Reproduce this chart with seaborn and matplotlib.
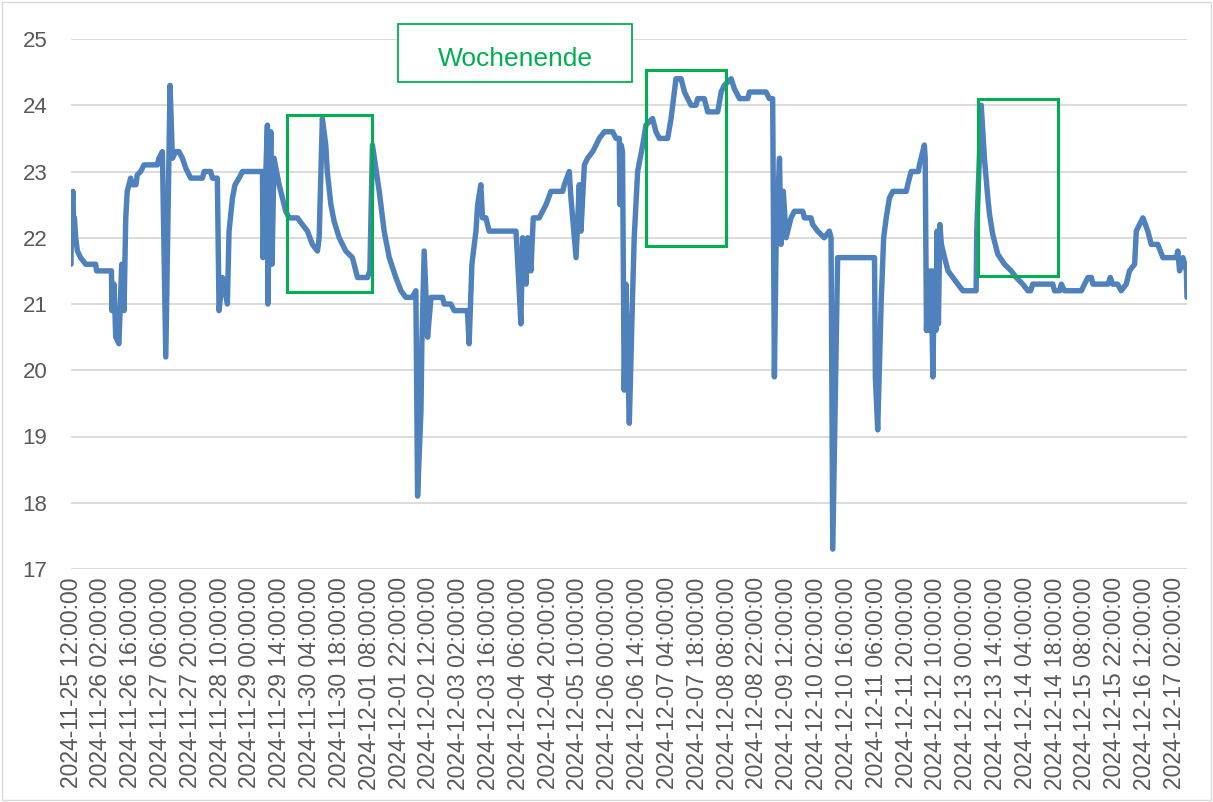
import matplotlib
matplotlib.use("Agg")
import matplotlib.pyplot as plt
import matplotlib.dates as mdates
from matplotlib.patches import Rectangle
import seaborn as sns
import pandas as pd

# Messbeginn und Zeitachse
START = pd.Timestamp("2024-11-25 12:00:00")

# Stunden seit Messbeginn
hours = [
    0.0, 0.3, 0.9, 1.3, 1.6, 2.2, 3.0, 4.5, 6.9, 11.6,
    12.0, 19.0, 19.2, 20.2, 21.0, 22.5, 23.8, 24.9, 25.7, 26.4,
    28.0, 28.7, 30.5, 31.1, 32.7, 34.3, 40.5, 41.3, 42.9, 44.5,
    46.5, 47.6, 49.2, 50.7, 52.3, 53.9, 56.2, 61.7, 62.5, 65.6,
    66.4, 68.7, 69.5, 71.1, 73.4, 74.2, 75.8, 77.0, 78.9, 80.5,
    89.9, 90.1, 92.2, 92.4, 93.8, 94.4, 95.3, 97.7, 100.8, 102.4,
    106.3, 108.6, 111.0, 113.3, 115.7, 116.5, 118.0, 119.6, 120.3, 122.0,
    123.5, 125.9, 129.0, 132.1, 134.5, 139.2, 140.3, 141.5, 144.7, 147.0,
    149.4, 152.5, 154.9, 157.2, 160.2, 161.9, 162.7, 164.3, 164.7, 165.8,
    167.4, 169.0, 174.4, 175.2, 178.3, 179.9, 186.1, 186.9, 188.2, 190.1,
    190.9, 192.4, 193.2, 194.8, 196.3, 208.9, 209.6, 211.2, 212.0, 213.6,
    214.4, 215.9, 217.0, 219.8, 221.4, 223.0, 225.3, 230.8, 231.6, 233.9,
    234.7, 237.1, 238.6, 239.4, 241.0, 242.5, 244.9, 246.5, 248.0, 250.4,
    254.3, 255.8, 257.4, 257.7, 258.3, 258.9, 259.7, 260.5, 261.3, 262.1,
    263.6, 264.4, 266.0, 268.4, 269.9, 273.0, 274.6, 276.2, 280.1, 281.7,
    283.2, 284.0, 286.4, 288.0, 289.5, 291.1, 293.4, 294.2, 297.3, 298.9,
    303.6, 305.2, 306.7, 309.9, 311.4, 313.8, 317.7, 318.5, 326.3, 327.8,
    329.4, 330.2, 331.0, 332.6, 333.3, 334.4, 335.7, 338.0, 339.6, 343.5,
    344.3, 347.4, 348.2, 350.5, 353.6, 356.0, 356.8, 357.6, 359.9, 377.2,
    377.6, 378.7, 380.3, 381.5, 382.7, 384.2, 385.8, 392.1, 392.8, 394.4,
    397.8, 398.3, 400.6, 401.0, 401.6, 402.3, 403.0, 403.8, 404.6, 405.3,
    406.0, 406.6, 407.2, 407.9, 408.6, 410.1, 411.7, 414.0, 416.3, 418.7,
    424.9, 425.2, 427.3, 428.8, 430.4, 431.2, 432.7, 435.1, 438.2, 441.4,
    443.7, 446.8, 449.2, 450.5, 451.5, 460.9, 461.7, 464.1, 464.9, 466.4,
    474.3, 475.8, 477.4, 479.0, 479.7, 486.8, 487.9, 489.0, 491.3, 493.0,
    495.4, 496.9, 499.3, 500.1, 501.6, 503.2, 505.5, 507.1, 510.2, 512.6,
    518.9, 519.6, 520.4, 522.0, 523.6, 523.9,
]

# Raumtemperatur in °C
temps = [
    21.6, 22.4, 22.7, 22.1, 22.3, 22.0, 21.8, 21.7, 21.6, 21.6,
    21.5, 21.5, 20.9, 21.3, 20.5, 20.4, 21.6, 20.9, 22.3, 22.7,
    22.9, 22.8, 22.8, 22.95, 23.0, 23.1, 23.1, 23.2, 23.3, 20.2,
    24.3, 23.2, 23.3, 23.3, 23.2, 23.05, 22.9, 22.9, 23.0, 23.0,
    22.9, 22.9, 20.9, 21.4, 21.0, 22.1, 22.6, 22.8, 22.9, 23.0,
    23.0, 21.7, 23.7, 21.0, 23.6, 21.6, 23.2, 22.8, 22.4, 22.3,
    22.3, 22.2, 22.1, 21.9, 21.8, 22.0, 23.8, 23.4, 23.0, 22.5,
    22.25, 22.0, 21.8, 21.7, 21.4, 21.4, 21.5, 23.4, 22.7, 22.1,
    21.7, 21.4, 21.2, 21.1, 21.1, 21.2, 18.1, 19.4, 20.4, 21.8,
    20.5, 21.1, 21.1, 21.0, 21.0, 20.9, 20.9, 20.4, 21.6, 22.1,
    22.5, 22.8, 22.3, 22.3, 22.1, 22.1, 21.7, 20.7, 22.0, 21.3,
    22.0, 21.5, 22.3, 22.3, 22.4, 22.5, 22.7, 22.7, 22.8, 23.0,
    22.6, 21.7, 22.8, 22.1, 23.1, 23.2, 23.3, 23.4, 23.5, 23.6,
    23.6, 23.5, 23.5, 22.5, 23.4, 23.3, 19.7, 21.3, 20.2, 19.2,
    21.1, 22.0, 23.0, 23.4, 23.7, 23.8, 23.6, 23.5, 23.5, 23.8,
    24.2, 24.4, 24.4, 24.2, 24.1, 24.0, 24.0, 24.1, 24.1, 23.9,
    23.9, 24.2, 24.3, 24.4, 24.25, 24.1, 24.1, 24.2, 24.2, 24.1,
    24.1, 19.9, 21.9, 23.2, 21.9, 22.7, 22.0, 22.3, 22.4, 22.4,
    22.3, 22.3, 22.2, 22.1, 22.0, 22.1, 22.0, 17.3, 21.7, 21.7,
    19.9, 19.1, 21.0, 22.0, 22.3, 22.6, 22.7, 22.7, 22.8, 23.0,
    23.0, 23.1, 23.4, 23.2, 20.6, 21.5, 20.6, 21.5, 19.9, 21.5,
    20.6, 22.1, 20.7, 22.2, 21.9, 21.7, 21.5, 21.4, 21.3, 21.2,
    21.2, 22.1, 24.0, 23.2, 22.6, 22.35, 22.05, 21.75, 21.6, 21.5,
    21.4, 21.3, 21.2, 21.2, 21.3, 21.3, 21.2, 21.2, 21.3, 21.2,
    21.2, 21.3, 21.4, 21.4, 21.3, 21.3, 21.4, 21.3, 21.3, 21.2,
    21.3, 21.5, 21.6, 22.1, 22.2, 22.3, 22.1, 21.9, 21.9, 21.7,
    21.7, 21.8, 21.5, 21.7, 21.5, 21.1,
]

# Wochenend-Markierungen: (von, bis, unten, oben)
weekend_boxes = [
    ("2024-11-29 17:25", "2024-12-01 09:20", 21.18, 23.85),
    ("2024-12-06 18:00", "2024-12-08 07:30", 21.88, 24.53),
    ("2024-12-13 05:50", "2024-12-14 19:25", 21.42, 24.09),
]
label_box = ("2024-12-01 21:30", "2024-12-06 11:25", 24.35, 25.23)
label_text = "Wochenende"

LINE_BLUE = "#4F81BD"
GREEN = "#00B050"
GREY = "#595959"


def main():
    df = pd.DataFrame({
        "Zeit": START + pd.to_timedelta(hours, unit="h"),
        "Temperatur": temps,
    })

    sns.set_style("white")
    plt.rcParams["font.family"] = ["Liberation Sans", "DejaVu Sans"]

    fig = plt.figure(figsize=(12.13, 8.02), dpi=100)
    ax = fig.add_axes([71 / 1213, 1 - 569 / 802, (1187 - 71) / 1213, (569 - 39) / 802])

    sns.lineplot(data=df, x="Zeit", y="Temperatur", ax=ax, color=LINE_BLUE,
                 linewidth=3.9, estimator=None, sort=False, zorder=3)

    ax.set_xlim(df["Zeit"].iloc[0], df["Zeit"].iloc[-1])
    ax.set_ylim(17, 25)
    ax.set_yticks(range(17, 26))
    ax.set_xticks(pd.date_range(START, periods=38, freq="14h"))
    ax.xaxis.set_major_formatter(mdates.DateFormatter("%Y-%m-%d %H:%M:%S"))
    ax.tick_params(axis="x", rotation=90, labelsize=16.5, colors=GREY, length=0, pad=6)
    ax.tick_params(axis="y", labelsize=16, colors=GREY, length=0, pad=17)
    ax.set_xlabel("")
    ax.set_ylabel("")

    ax.grid(axis="y", color="#D9D9D9", linewidth=1.3)
    ax.grid(axis="x", visible=False)
    for spine in ax.spines.values():
        spine.set_visible(False)

    for t0, t1, lo, hi in weekend_boxes:
        x0 = mdates.date2num(pd.Timestamp(t0))
        x1 = mdates.date2num(pd.Timestamp(t1))
        ax.add_patch(Rectangle((x0, lo), x1 - x0, hi - lo, fill=False,
                               edgecolor=GREEN, linewidth=2.2, zorder=4))

    x0 = mdates.date2num(pd.Timestamp(label_box[0]))
    x1 = mdates.date2num(pd.Timestamp(label_box[1]))
    lo, hi = label_box[2], label_box[3]
    ax.add_patch(Rectangle((x0, lo), x1 - x0, hi - lo, facecolor="white", edgecolor=GREEN,
                           linewidth=1.3, zorder=4, clip_on=False))
    ax.text((x0 + x1) / 2, 24.6, label_text, color=GREEN, fontsize=19,
            ha="center", va="baseline", zorder=5, clip_on=False)

    # Rahmen um das ganze Diagramm
    fig.patches.append(Rectangle((0.002, 0.002), 0.996, 0.996, transform=fig.transFigure,
                                 fill=False, edgecolor="#D9D9D9", linewidth=1))

    fig.savefig("out.png", dpi=100)


if __name__ == "__main__":
    main()
